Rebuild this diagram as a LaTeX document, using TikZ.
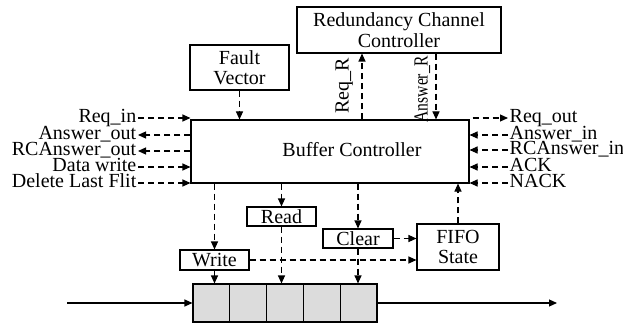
\documentclass[tikz,border=0pt]{standalone}
\usepackage{fontspec}
\setmainfont{Liberation Serif}
\usepackage{tikz}
\usetikzlibrary{positioning,arrows.meta,calc}
\newcommand{\diagfont}{\fontsize{20}{20.5}\selectfont}
\definecolor{cellgray}{RGB}{220,220,220}
\tikzset{
  block/.style={
    draw,
    line width=1.1pt,
    inner sep=1pt,
    align=center,
    font=\diagfont
  },
  sig/.style={
    inner xsep=1.5pt,
    inner ysep=0pt,
    text height=12pt,
    text depth=3pt,
    font=\diagfont
  },
  cell/.style={
    draw,
    fill=cellgray,
    line width=1.1pt,
    minimum width=36.8pt,
    minimum height=38pt,
    inner sep=0pt
  },
  ctrl/.style={
    -{Triangle[length=8pt,width=7pt]},
    line width=1.1pt,
    dash pattern=on 6pt off 4pt
  },
  data/.style={
    -{Triangle[length=8pt,width=7pt]},
    line width=1.1pt
  }
}
\begin{document}
\begin{tikzpicture}[x=1pt, y=-1pt]
  \useasboundingbox (0,0) rectangle (623,323);

  % Main blocks
  \node[block, minimum width=278pt, minimum height=63pt] (bc) at (330,151.5) {};
  \node[font=\diagfont, inner sep=0pt] (bctext) at (352,150) {Buffer Controller};
  \node[block, minimum width=99pt, minimum height=45pt] (fv) at (239.5,67.5) {Fault\\Vector};
  \node[block, minimum width=204pt, minimum height=46pt] (rcc) at (399,30) {Redundancy Channel\\Controller};
  \node[block, minimum width=82pt, minimum height=46pt] (fifo) at (458,247) {FIFO\\State};

  % Small command boxes
  \node[block, minimum width=69pt, minimum height=20pt] (write) at (214.5,260) {Write};
  \node[block, minimum width=69pt, minimum height=19pt] (read) at (281.5,216.5) {Read};
  \node[block, minimum width=70pt, minimum height=19pt] (clear) at (358,238.5) {Clear};

  % Buffer cells
  \foreach \i in {1,...,5}
    \node[cell] (c\i) at ({193+(\i-0.5)*36.8},303) {};

  % Left signals
  \node[sig, anchor=east] (reqin) at (138,118) {Req\_in};
  \node[sig, anchor=east] (ansout) at (138,135) {Answer\_out};
  \node[sig, anchor=east] (rcansout) at (138,151) {RCAnswer\_out};
  \node[sig, anchor=east] (datawr) at (138,167) {Data write};
  \node[sig, anchor=east] (dellast) at (138,183) {Delete Last Flit};

  \draw[ctrl] (reqin) -- (reqin -| bc.west);
  \draw[ctrl] (ansout -| bc.west) -- (ansout);
  \draw[ctrl] (rcansout -| bc.west) -- (rcansout);
  \draw[ctrl] (datawr) -- (datawr -| bc.west);
  \draw[ctrl] (dellast) -- (dellast -| bc.west);

  % Right signals
  \node[sig, anchor=west] (reqout) at (508,118) {Req\_out};
  \node[sig, anchor=west] (ansin) at (508,135) {Answer\_in};
  \node[sig, anchor=west] (rcansin) at (508,150) {RCAnswer\_in};
  \node[sig, anchor=west] (ack) at (508,167) {ACK};
  \node[sig, anchor=west] (nack) at (508,183) {NACK};

  \draw[ctrl] ([xshift=3pt]reqout -| bc.east) -- (reqout);
  \draw[ctrl] (ansin) -- (ansin -| bc.east);
  \draw[ctrl] (rcansin) -- (rcansin -| bc.east);
  \draw[ctrl] (ack) -- (ack -| bc.east);
  \draw[ctrl] (nack) -- (nack -| bc.east);

  % Top connections
  \draw[ctrl] (fv) -- (fv.south |- bc.north);
  \coordinate (reqr) at ([xshift=32pt]bc.north);
  \coordinate (ansr) at ([xshift=106pt]bc.north);
  \draw[ctrl] (reqr) -- (reqr |- rcc.south);
  \draw[ctrl] (ansr |- rcc.south) -- (ansr);
  \node[sig, rotate=90] (reqrlbl) at (344,86) {Req\_R};
  \node[sig, rotate=90] (ansrlbl) at (423,89) {\scalebox{0.78}[1]{Answer\_R}};

  % Bottom connections
  \draw[ctrl] (write.north |- bc.south) -- (write);
  \draw[ctrl] (read.north |- bc.south) -- (read);
  \draw[ctrl] (clear.north |- bc.south) -- (clear);
  \draw[ctrl] (fifo) -- (fifo.north |- bc.south);
  \draw[ctrl] (write.east) -- (write.east -| fifo.west);
  \draw[ctrl] (clear.east) -- (clear.east -| fifo.west);
  \draw[ctrl] (write.south) -- (write.south |- c1.north);
  \draw[ctrl] (read.south) -- (read.south |- c3.north);
  \draw[ctrl] (clear.south) -- (clear.south |- c5.north);

  % Data path
  \coordinate (qin) at (67,303);
  \coordinate (qout) at (557,303);
  \draw[data] (qin) -- (c1.west);
  \draw[data] (c5.east) -- (qout);

\end{tikzpicture}
\end{document}
